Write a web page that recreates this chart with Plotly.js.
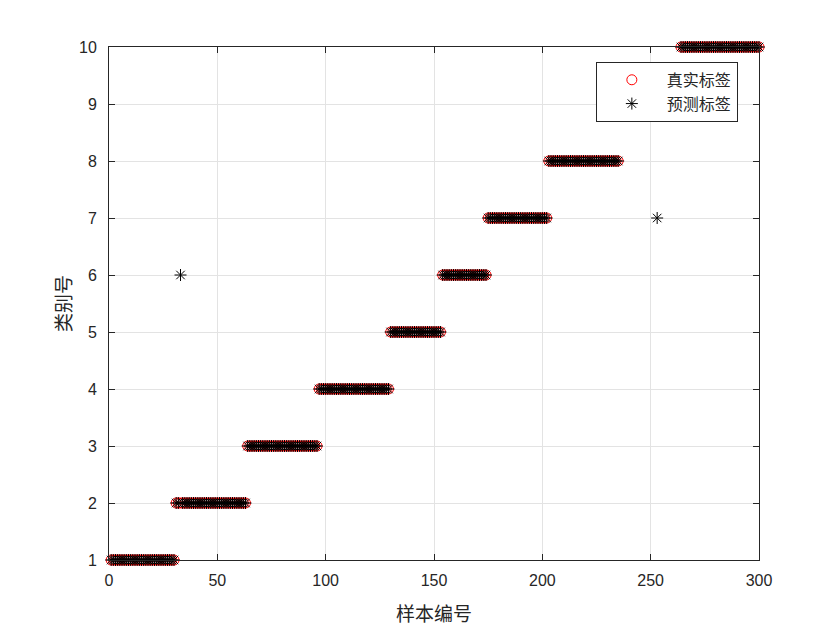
<!DOCTYPE html>
<html>
<head>
<meta charset="utf-8">
<script src="https://cdn.plot.ly/plotly-3.0.1.min.js"></script>
<style>html,body{margin:0;padding:0;background:#fff;}#chart{width:840px;height:630px;}</style>
</head>
<body>
<div id="chart"></div>
<script>
// True-label segments: class value, first sample, last sample
const segClass = [1, 2, 3, 4, 5, 6, 7, 8, 10];
const segStart = [1, 31, 64, 97, 130, 154, 175, 203, 264];
const segEnd   = [30, 63, 96, 129, 153, 174, 202, 235, 300];
// Misclassified samples: index and predicted label
const wrongIdx  = [33];
const wrongPred = [6];
// Extra predicted point with no visible true-label marker
const extraIdx  = [253];
const extraPred = [7];

const xTicks = [0, 50, 100, 150, 200, 250, 300];
const yTicks = [1, 2, 3, 4, 5, 6, 7, 8, 9, 10];
const seriesNames = ['真实标签', '预测标签'];
const xTitle = '样本编号';
const yTitle = '类别号';

const xs = [], yTrue = [], yPred = [];
for (let s = 0; s < segClass.length; s++) {
  for (let i = segStart[s]; i <= segEnd[s]; i++) {
    xs.push(i);
    yTrue.push(segClass[s]);
    const w = wrongIdx.indexOf(i);
    yPred.push(w >= 0 ? wrongPred[w] : segClass[s]);
  }
}
const xp = xs.concat(extraIdx);
const yp = yPred.concat(extraPred);

const cjk = '"Noto Sans CJK SC", "Noto Sans", sans-serif';
const tickFont = {family: 'Liberation Sans, Arial, sans-serif', size: 16, color: '#262626'};

const traces = [
  {x: xs, y: yTrue, mode: 'markers', type: 'scatter', name: seriesNames[0], cliponaxis: false,
   marker: {symbol: 'circle-open', size: 10, color: '#ff0000', line: {width: 1, color: '#ff0000'}}},
  {x: xp, y: yp, mode: 'markers', type: 'scatter', name: seriesNames[1], cliponaxis: false,
   marker: {symbol: 'asterisk-open', size: 10, color: '#000000', line: {width: 1, color: '#000000'}}}
];

const axisCommon = {
  showline: true, linecolor: '#262626', linewidth: 1, mirror: 'ticks',
  ticks: 'inside', ticklen: 6, tickcolor: '#262626', tickwidth: 1,
  showgrid: true, gridcolor: '#e3e3e3', gridwidth: 1, zeroline: false,
  tickfont: tickFont
};

const layout = {
  width: 840, height: 630,
  paper_bgcolor: '#ffffff', plot_bgcolor: '#ffffff',
  margin: {l: 109, r: 81, t: 47, b: 70},
  showlegend: true,
  xaxis: Object.assign({}, axisCommon, {
    range: [0, 300], tickvals: xTicks, ticktext: xTicks.map(String),
    ticklabelstandoff: 6,
    title: {text: xTitle, font: {family: cjk, size: 19, color: '#262626'}, standoff: 19}
  }),
  yaxis: Object.assign({}, axisCommon, {
    range: [1, 10], tickvals: yTicks, ticktext: yTicks.map(String),
    ticklabelstandoff: 8,
    title: {text: yTitle, font: {family: cjk, size: 19, color: '#262626'}, standoff: 2}
  }),
  legend: {
    x: 0.749, y: 0.971, xanchor: 'left', yanchor: 'top',
    bgcolor: '#ffffff', bordercolor: '#262626', borderwidth: 1,
    font: {family: cjk, size: 16, color: '#262626'},
    itemwidth: 60, tracegroupgap: 0
  }
};

Plotly.newPlot('chart', traces, layout, {displayModeBar: false, staticPlot: true});
</script>
</body>
</html>
